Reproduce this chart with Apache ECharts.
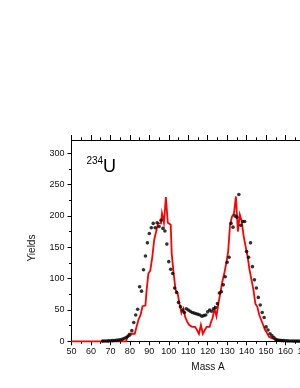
<!DOCTYPE html>
<html><head><meta charset="utf-8">
<script src="https://cdn.jsdelivr.net/npm/echarts@6/dist/echarts.min.js"></script>
<style>html,body{margin:0;padding:0;background:#fff}#c{width:300px;height:388px}</style>
</head><body><div id="c"></div>
<script>
// Red histogram (calculation), one value per mass number
const redMass  = [50,78,79,80,81,82,83,84,85,86,87,88,89,90,91,92,93,94,95,96,97,98,99,100,101,102,103,104,105,106,107,108,109,110,111,112,113,114,115,116,117,118,119,120,121,122,123,124,125,126,127,128,129,130,131,132,133,134,135,136,137,138,139,140,141,142,143,144,145,146,147,148,149,150,151,152,153,154,155,156,157,158,159];
const redYield = [0,0,4,12,12,12,12,24,35,42,56,57,78,108,113,134,162,175,188,188,204,189,230,189,186,140,108,82,77,60,45,52,38,31,26,23,23,22,18,12,26,12,18,23,23,29,37,52,40,60,77,95,108,124,143,186,199,204,231,175,202,191,167,151,135,114,98,82,60,55,42,34,26,18,13,7,5,3,2,2,1,1,1];
// Black dots (experiment)
const dotMass  = [66,67,68,69,70,71,72,73,74,75,76,77,78,79,80,81,82,83,84,85,86,87,88,89,90,91,92,93,94,95,96,97,98,99,100,101,102,103,104,105,106,107,108,109,110,111,112,113,114,115,116,117,118,119,120,121,122,123,124,125,126,127,128,129,130,131,132,133,134,135,136,137,138,139,140,141,142,143,144,145,146,147,148,149,150,151,152,153,154,155,156,157,158,159,160,161,162,163,164,165,166,167];
const dotYield = [0.3,0.4,0.5,0.6,0.8,1,1.2,1.5,1.8,2.2,3,4.5,6,8,10,17,30,42,51,87,80,114,136,157,172,181,188,181,189,183,193,180,176,155,127,115,108,85,78,62,55,50,46,52,50,48,46,45,44,43,42,40,41,42,47,50,48,52,54,60,77,79,90,103,126,134,188,182,200,198,234,185,191,191,143,134,157,119,98,85,70,58,46,38,23,18,12,9,6,3,2,1.5,1,1,0.8,0.6,0.5,0.4,0.3,0.3,0.2,0.2];
const yTickValues = [0,50,100,150,200,250,300];
const yMinorValues = [25,75,125,175,225,275];
const xMin = 50, xMax = 170, xStep = 10;
const yMax = 321;

const chart = echarts.init(document.getElementById('c'), null, {renderer:'canvas'});
const font = 'Liberation Sans, Arial, sans-serif';
const lineC = '#000';
const xBase = {
  type:'value', min:xMin, max:xMax, interval:xStep,
  axisLine:{show:true, onZero:false, lineStyle:{color:lineC, width:1}},
  splitLine:{show:false}
};
chart.setOption({
  animation:false,
  grid:{left:71.5, top:140, width:233.5, height:201.3, containLabel:false, outerBoundsMode:'none'},
  xAxis:[
    Object.assign({}, xBase, {position:'bottom',
      axisTick:{show:true, inside:false, length:4, lineStyle:{color:lineC}},
      minorTick:{show:true, splitNumber:2, length:2.5, lineStyle:{color:lineC}},
      axisLabel:{show:true, margin:6, fontSize:9, color:'#111', fontFamily:font, hideOverlap:false}}),
    Object.assign({}, xBase, {position:'top',
      axisTick:{show:true, inside:false, length:5, lineStyle:{color:lineC}},
      minorTick:{show:true, splitNumber:2, length:2.7, lineStyle:{color:lineC}},
      axisLabel:{show:false}})
  ],
  yAxis:[
    {type:'value', min:0, max:yMax, position:'left',
     axisLine:{show:true, onZero:false, lineStyle:{color:lineC}},
     axisTick:{show:true, length:4, customValues:yTickValues, lineStyle:{color:lineC}},
     axisLabel:{show:true, customValues:yTickValues, margin:7, fontSize:9, color:'#111', fontFamily:font},
     splitLine:{show:false}},
    {type:'value', min:0, max:yMax, position:'left', offset:0,
     axisLine:{show:false},
     axisTick:{show:true, length:2.5, customValues:yMinorValues, lineStyle:{color:lineC}},
     axisLabel:{show:false}, splitLine:{show:false}}
  ],
  series:[
    {type:'line', step:'middle', xAxisIndex:0, yAxisIndex:0, clip:false,
     data: redMass.map((m,i)=>[m, redYield[i]]),
     showSymbol:false, symbol:'none',
     lineStyle:{color:'#ff0000', width:1.8, join:'miter'}, z:3},
    {type:'scatter', xAxisIndex:0, yAxisIndex:0, clip:false,
     data: dotMass.map((m,i)=>[m, dotYield[i]]),
     symbol:'circle', symbolSize:3.6,
     itemStyle:{color:'#000'}, z:4}
  ],
  graphic:[
    {type:'text', x:32, y:248, rotation:Math.PI/2,
     style:{text:'Yields', font:'10px '+font, fill:'#111', align:'center', verticalAlign:'middle'}},
    {type:'text', x:208, y:367,
     style:{text:'Mass A', font:'10px '+font, fill:'#111', align:'center', verticalAlign:'middle'}},
    {type:'text', x:86.5, y:161.5,
     style:{text:'234', font:'10px '+font, fill:'#000', align:'left', verticalAlign:'middle'}},
    {type:'text', x:103, y:167,
     style:{text:'U', font:'18px '+font, fill:'#000', align:'left', verticalAlign:'middle'}}
  ]
});
</script></body></html>
